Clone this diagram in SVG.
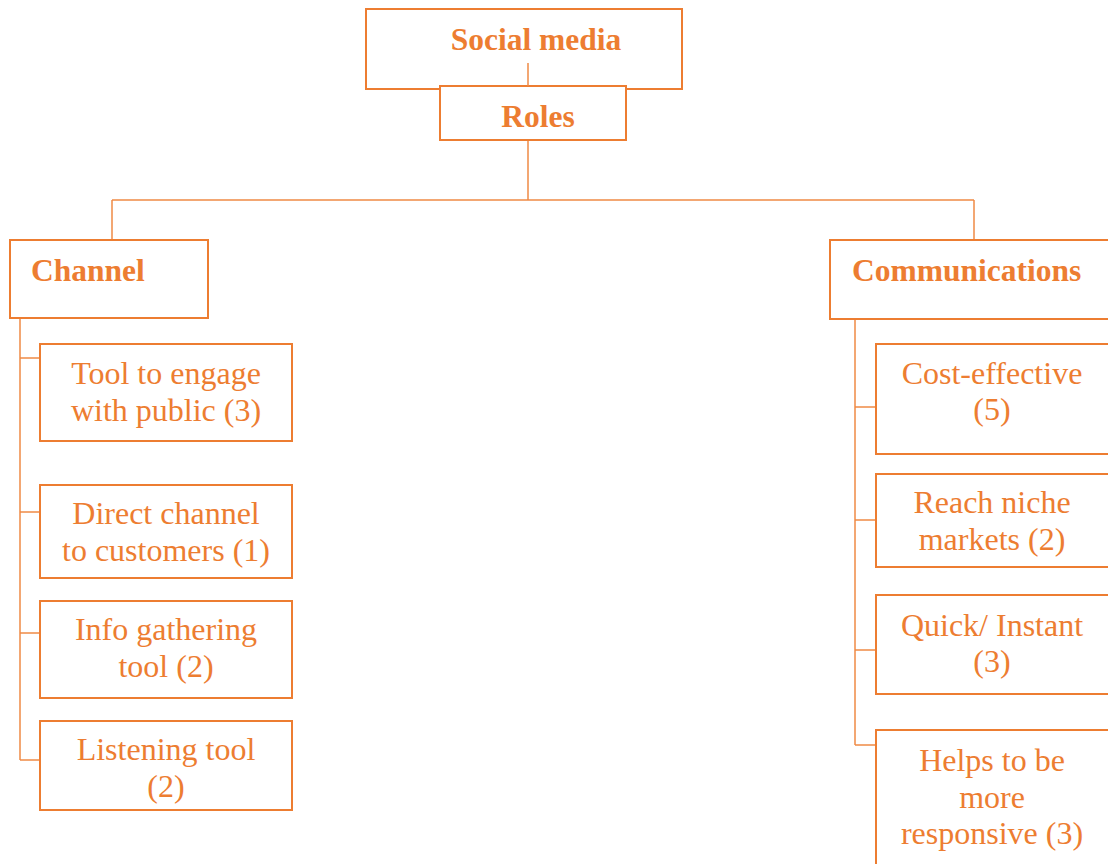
<svg xmlns="http://www.w3.org/2000/svg" width="1108" height="864" viewBox="0 0 1108 864">
<style>
.box{fill:#fff;stroke:#ED7D31;stroke-width:2}
.ln{fill:none;stroke:#F08A45;stroke-width:1.5}
.t{font-family:"Liberation Serif","Times New Roman",serif;font-size:32px;fill:#ED7D31;text-anchor:middle}
.b{font-weight:bold;font-size:31.5px}
.l{text-anchor:start}
</style>
<rect width="1108" height="864" fill="#fff"/>
<g id="social-media">
<rect class="box" x="366" y="9" width="316" height="80"/>
<text class="t b" x="536" y="50">Social media</text>
</g>
<g id="roles">
<rect class="box" x="440" y="86" width="186" height="54"/>
<text class="t b" x="538" y="127">Roles</text>
</g>
<g id="channel">
<rect class="box" x="10" y="240" width="198" height="78"/>
<text class="t b l" x="31" y="281">Channel</text>
</g>
<g id="communications">
<rect class="box" x="830" y="240" width="290" height="79"/>
<text class="t b l" x="852" y="281">Communications</text>
</g>
<g id="tool-engage">
<rect class="box" x="40" y="344" width="252" height="97"/>
<text class="t" x="166" y="384">Tool to engage</text>
<text class="t" x="166" y="421">with public (3)</text>
</g>
<g id="direct-channel">
<rect class="box" x="40" y="485" width="252" height="93"/>
<text class="t" x="166" y="524">Direct channel</text>
<text class="t" x="166" y="561">to customers (1)</text>
</g>
<g id="info-gathering">
<rect class="box" x="40" y="601" width="252" height="97"/>
<text class="t" x="166" y="640">Info gathering</text>
<text class="t" x="166" y="677">tool (2)</text>
</g>
<g id="listening">
<rect class="box" x="40" y="721" width="252" height="89"/>
<text class="t" x="166" y="760">Listening tool</text>
<text class="t" x="166" y="797">(2)</text>
</g>
<g id="cost-effective">
<rect class="box" x="876" y="344" width="250" height="110"/>
<text class="t" x="992" y="384">Cost-effective</text>
<text class="t" x="992" y="420">(5)</text>
</g>
<g id="reach-niche">
<rect class="box" x="876" y="474" width="250" height="93"/>
<text class="t" x="992" y="513">Reach niche</text>
<text class="t" x="992" y="550">markets (2)</text>
</g>
<g id="quick-instant">
<rect class="box" x="876" y="595" width="250" height="99"/>
<text class="t" x="992" y="636">Quick/ Instant</text>
<text class="t" x="992" y="672">(3)</text>
</g>
<g id="helps">
<rect class="box" x="876" y="730" width="250" height="150"/>
<text class="t" x="992" y="771">Helps to be</text>
<text class="t" x="992" y="808">more</text>
<text class="t" x="992" y="844">responsive (3)</text>
</g>
<g id="connectors">
<path class="ln" d="M528,63V86M528,141V200M112,200H974M112,200V239M974,200V239"/>
<path class="ln" d="M20,319V760M20,358H39M20,512H39M20,633H39M20,760H39"/>
<path class="ln" d="M855,320V745M855,407H875M855,520H875M855,650H875M855,745H875"/>
</g>
</svg>
